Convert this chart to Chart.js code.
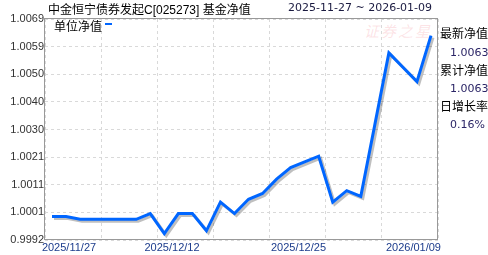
<!DOCTYPE html>
<html><head><meta charset="utf-8">
<script src="https://cdn.jsdelivr.net/npm/chart.js@4"></script>
<style>
html,body{margin:0;padding:0;background:#fff;}
#wrap{position:relative;width:488px;height:255px;overflow:hidden;}
#c{position:absolute;left:0;top:0;}
.t{position:absolute;white-space:nowrap;line-height:1;}
.cjk{font-family:"Liberation Sans","Noto Sans CJK SC",sans-serif;font-size:12px;color:#000;}
.num{font-family:"DejaVu Sans",sans-serif;font-size:11px;color:#2b2566;}
</style></head><body>
<div id="wrap">
<div class="t" style="left:364px;top:23px;font-family:'Noto Sans CJK SC';font-size:15px;font-style:italic;color:rgba(240,110,125,0.2);letter-spacing:2px">证券之星</div>
<canvas id="c" width="488" height="255"></canvas>
<div class="t cjk" style="left:48px;top:4px">中金恒宁债券发起C[025273] 基金净值</div>
<div class="t num" style="left:288px;top:2px;color:#1a1a40">2025-11-27 ~ 2026-01-09</div>
<div class="t cjk" style="left:54px;top:21px">单位净值</div>
<div style="position:absolute;left:105px;top:23px;width:7px;height:2px;background:#0066ff"></div>
<div class="t cjk" style="left:440px;top:28px">最新净值</div>
<div class="t num" style="left:450px;top:47px">1.0063</div>
<div class="t cjk" style="left:440px;top:65px">累计净值</div>
<div class="t num" style="left:450px;top:83px">1.0063</div>
<div class="t cjk" style="left:440px;top:101px">日增长率</div>
<div class="t num" style="left:450px;top:119px">0.16%</div>
</div>
<script>
// Data
const seriesName = '单位净值';
const navValues = [1.0000, 1.0000, 0.9999, 0.9999, 0.9999, 0.9999, 0.9999, 1.0001, 0.9994, 1.0001,
                   1.0001, 0.9995, 1.0005, 1.0001, 1.0006, 1.0008, 1.0013, 1.0017, 1.0019, 1.0021,
                   1.0005, 1.0009, 1.0007, 1.0032, 1.0057, 1.0052, 1.0047, 1.0063];
const xTickLabels = ['2025/11/27', '2025/12/12', '2025/12/25', '2026/01/09'];
const yMin = 0.99918, yMax = 1.00688, ySteps = 8;

// Layout (label anchor positions on the point-index axis)
const xTickPos = [1.21, 8.55, 17.56, 25.75];

const shadowPlugin = {
  id: 'shadow',
  beforeDatasetDraw(chart) {
    const c = chart.ctx; c.save();
    c.shadowColor = 'rgba(0,0,0,0.25)'; c.shadowOffsetX = 2; c.shadowOffsetY = 2; c.shadowBlur = 0.5;
  },
  afterDatasetDraw(chart) { chart.ctx.restore(); }
};
const framePlugin = {
  id: 'frame',
  beforeDatasetsDraw(chart) {
    const {left, top, right, bottom} = chart.chartArea; const c = chart.ctx;
    c.save(); c.strokeStyle = '#999'; c.lineWidth = 1;
    c.strokeRect(Math.round(left) - 0.5, Math.round(top) - 0.5, Math.round(right - left), Math.round(bottom - top));
    c.restore();
  }
};

new Chart(document.getElementById('c'), {
  type: 'line',
  data: { datasets: [{
    label: seriesName,
    data: navValues.map((v, i) => ({x: i, y: v})),
    borderColor: '#0066ff', borderWidth: 3, pointRadius: 0, tension: 0, fill: false,
    xAxisID: 'x', yAxisID: 'y', borderJoinStyle: 'miter'
  }]},
  options: {
    responsive: false, animation: false, devicePixelRatio: 1,
    layout: { padding: { left: 0, right: 50, top: 19, bottom: 0 } },
    plugins: { legend: { display: false }, tooltip: { enabled: false } },
    scales: {
      x: {
        type: 'linear', position: 'bottom', min: -0.5, max: 27.5,
        afterBuildTicks: s => { s.ticks = xTickPos.map(v => ({value: v})); },
        afterFit: s => { s.height = 15; },
        grid: { display: false, drawTicks: false }, border: { display: false },
        ticks: { autoSkip: false, maxRotation: 0, padding: 1, color: '#1c3c8c',
                 font: { family: 'Liberation Sans', size: 11 },
                 callback: (v, i) => xTickLabels[i] }
      },
      xg: {
        type: 'linear', position: 'top', min: -0.5, max: 27.5,
        afterBuildTicks: s => { const t = []; for (let k = 0; k <= 7; k++) t.push({value: -0.5 + 4 * k}); s.ticks = t; },
        afterFit: s => { s.height = 0; },
        ticks: { display: false },
        grid: { color: '#d9d9d9', drawTicks: false },
        border: { display: false, dash: [3, 3] }
      },
      y: {
        min: yMin, max: yMax,
        afterBuildTicks: s => { const t = []; for (let k = 0; k <= ySteps; k++) t.push({value: yMin + (yMax - yMin) * k / ySteps}); s.ticks = t; },
        afterFit: s => { s.width = 45; },
        ticks: { color: '#333', padding: 1, font: { family: 'Liberation Sans', size: 11 },
                 callback: v => v.toFixed(4) },
        grid: { color: '#d9d9d9', drawTicks: false },
        border: { display: false, dash: [3, 3] }
      }
    }
  },
  plugins: [framePlugin, shadowPlugin]
});
</script>
</body></html>
